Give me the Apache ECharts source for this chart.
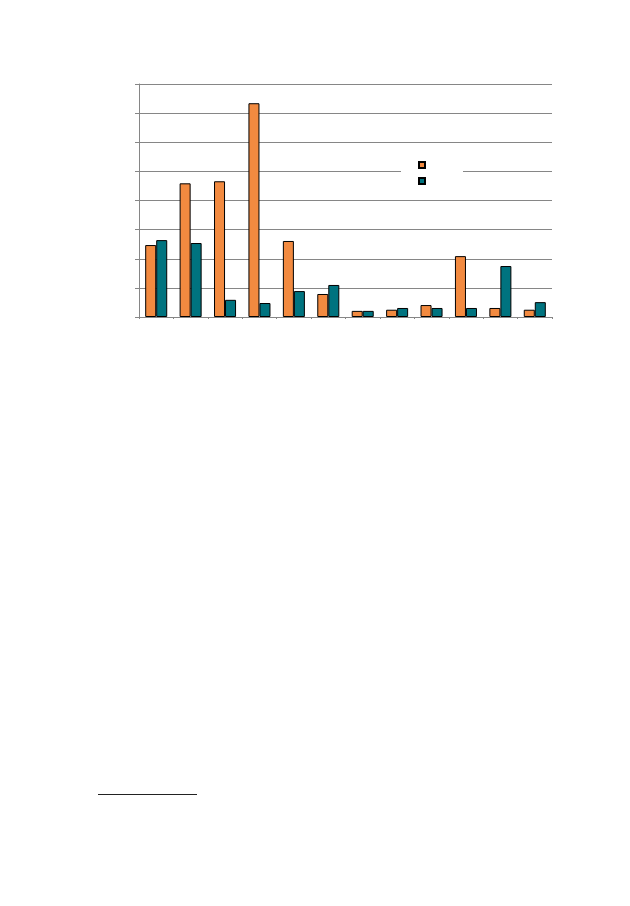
<!DOCTYPE html>
<html>
<head>
<meta charset="utf-8">
<script src="https://cdn.jsdelivr.net/npm/echarts@6/dist/echarts.min.js"></script>
<style>
	html, body { margin: 0; padding: 0; background: #fff; }
	#barChart { position: absolute; left: 0; top: 0; width: 630px; height: 906px; }
	/* footnote rule under the page text */
	.footRule { position: absolute; left: 98px; top: 794px; width: 99px; height: 0; border-top: 1px solid #222; }
</style>
</head>
<body>
<div id="barChart"></div>
<div class="footRule"></div>
<script>
//分类 (no labels are shown in the picture)
var categories = ['1', '2', '3', '4', '5', '6', '7', '8', '9', '10', '11', '12'];
//橙色系列
var orangeVals = [2.47, 4.59, 4.66, 7.34, 2.61, 0.79, 0.21, 0.25, 0.41, 2.09, 0.31, 0.25];
//青色系列
var tealVals = [2.64, 2.54, 0.59, 0.48, 0.89, 1.10, 0.21, 0.31, 0.31, 0.31, 1.75, 0.51];
//y轴刻度
var yTicks = [0, 1, 2, 3, 4, 5, 6, 7, 8];

(function barChartFn() {
	var axisGray = '#868686';

	var chartOption = {
		animation: false,
		grid: { //布局
			left: 139,
			top: 84,
			width: 413,
			height: 233
		},
		legend: {
			show: true,
			orient: 'vertical',
			left: 401,
			top: 155,
			backgroundColor: '#fff',
			padding: [6, 37, 6, 17],
			itemWidth: 6,
			itemHeight: 6,
			itemGap: 8,
			formatter: function () {
				return '';
			},
			data: [
				{ name: 'A', icon: 'rect' },
				{ name: 'B', icon: 'rect' }
			]
		},
		xAxis: {
			type: 'category',
			data: categories,
			axisLabel: { show: false },
			axisTick: {
				show: true,
				length: 2,
				lineStyle: { color: axisGray }
			},
			axisLine: {
				lineStyle: { color: axisGray, width: 1 }
			}
		},
		yAxis: {
			type: 'value',
			min: yTicks[0],
			max: yTicks[yTicks.length - 1],
			interval: 1,
			axisLabel: { show: false },
			axisTick: {
				show: true,
				length: 4,
				lineStyle: { color: axisGray }
			},
			axisLine: {
				show: true,
				lineStyle: { color: axisGray, width: 1 }
			},
			splitLine: {
				show: true,
				lineStyle: { color: axisGray, width: 1 }
			}
		},
		series: [{
			name: 'A',
			type: 'bar',
			data: orangeVals,
			barGap: '0%',
			barCategoryGap: '36%',
			itemStyle: {
				color: '#F28A40',
				borderColor: '#000',
				borderWidth: 1
			}
		}, {
			name: 'B',
			type: 'bar',
			data: tealVals,
			itemStyle: {
				color: '#00737F',
				borderColor: '#000',
				borderWidth: 1
			}
		}]
	};

	var barChart = echarts.init(document.getElementById('barChart'));
	barChart.setOption(chartOption);
})();
</script>
</body>
</html>
